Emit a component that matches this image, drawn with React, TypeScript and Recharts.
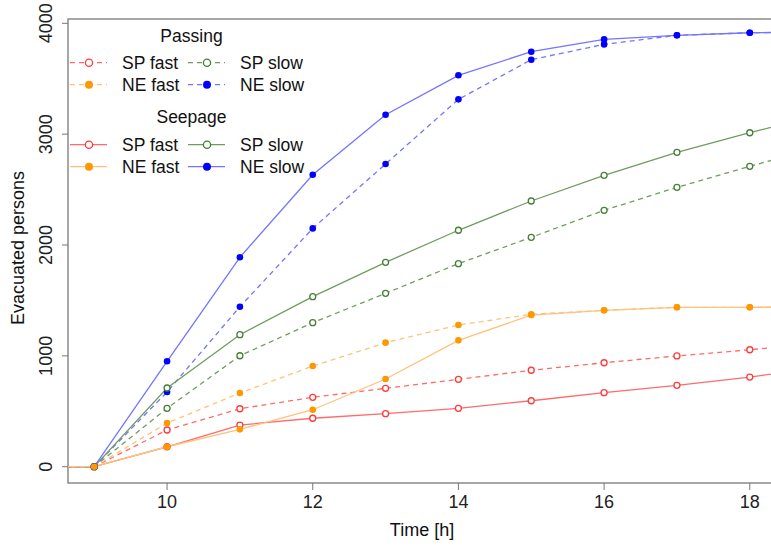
import React from "react";
import { LineChart, Line, XAxis, YAxis, ReferenceArea } from "recharts";

const hours = [8, 9, 10, 11, 12, 13, 14, 15, 16, 17, 18, 19];

// Passing
const spFastPassing = [0, 0, 331, 523, 626, 707, 788, 870, 938, 999, 1055, 1115];
const neFastPassing = [0, 0, 394, 665, 908, 1119, 1278, 1375, 1411, 1438, 1438, 1440];
const spSlowPassing = [0, 0, 527, 1001, 1299, 1564, 1832, 2069, 2313, 2520, 2710, 2890];
const neSlowPassing = [0, 0, 674, 1443, 2150, 2731, 3314, 3672, 3810, 3892, 3915, 3922];

// Seepage
const spFastSeepage = [0, 0, 180, 376, 437, 478, 527, 595, 668, 734, 809, 900];
const neFastSeepage = [0, 0, 180, 337, 514, 791, 1140, 1368, 1411, 1438, 1438, 1440];
const spSlowSeepage = [0, 0, 710, 1191, 1534, 1844, 2133, 2397, 2629, 2836, 3013, 3180];
const neSlowSeepage = [0, 0, 951, 1889, 2634, 3175, 3531, 3744, 3855, 3892, 3915, 3922];

const xTicks = [10, 12, 14, 16, 18];
const yTicks = [0, 1000, 2000, 3000, 4000];

const X_DOMAIN: [number, number] = [8.64, 18.36];
const Y_DOMAIN: [number, number] = [-147, 4039];

const data = hours.map((h, i) => ({
  h,
  spFastP: spFastPassing[i],
  neFastP: neFastPassing[i],
  spSlowP: spSlowPassing[i],
  neSlowP: neSlowPassing[i],
  spFastS: spFastSeepage[i],
  neFastS: neFastSeepage[i],
  spSlowS: spSlowSeepage[i],
  neSlowS: neSlowSeepage[i],
}));

const RED = { line: "#ff6a6a", mark: "#ff3a3a", open: true };
const ORANGE = { line: "#ffc27a", mark: "#ff9800", open: false };
const GREEN = { line: "#6f9d5f", mark: "#457f35", open: true };
const BLUE = { line: "#7474ff", mark: "#0000ff", open: false };

const DASH = "5 4";

const series = [
  { key: "spFastP", name: "SP fast", style: RED, dash: DASH },
  { key: "spSlowP", name: "SP slow", style: GREEN, dash: DASH },
  { key: "neSlowP", name: "NE slow", style: BLUE, dash: DASH },
  { key: "neFastP", name: "NE fast", style: ORANGE, dash: DASH },
  { key: "spFastS", name: "SP fast", style: RED, dash: undefined },
  { key: "spSlowS", name: "SP slow", style: GREEN, dash: undefined },
  { key: "neSlowS", name: "NE slow", style: BLUE, dash: undefined },
  { key: "neFastS", name: "NE fast", style: ORANGE, dash: undefined },
];

const FONT = "'Liberation Sans', Arial, Helvetica, sans-serif";

const makeDot = (color: string, open: boolean) => (props: any) => {
  const { cx, cy, payload, index } = props;
  if (payload.h < X_DOMAIN[0] || payload.h > X_DOMAIN[1]) return <g key={index} />;
  return open ? (
    <circle key={index} cx={cx} cy={cy} r={3} fill="white" stroke={color} strokeWidth={1.3} />
  ) : (
    <circle key={index} cx={cx} cy={cy} r={3.3} fill={color} />
  );
};

const XTick = (props: any) => {
  const { x, y, payload } = props;
  return (
    <text x={x} y={y} dy={16} textAnchor="middle" fill="#222" fontSize={18} fontFamily={FONT}>
      {payload.value}
    </text>
  );
};

const YTick = (props: any) => {
  const { y, payload } = props;
  return (
    <text
      transform={`translate(52, ${y}) rotate(-90)`}
      textAnchor="middle"
      fill="#222"
      fontSize={18}
      fontFamily={FONT}
    >
      {payload.value}
    </text>
  );
};

const LegendMark = ({ x, y, style, dash }: any) => (
  <g>
    <line x1={x - 19} x2={x + 18} y1={y} y2={y} stroke={style.line} strokeWidth={1.3} strokeDasharray={dash} />
    {style.open ? (
      <circle cx={x} cy={y} r={3.6} fill="white" stroke={style.mark} strokeWidth={1.3} />
    ) : (
      <circle cx={x} cy={y} r={4} fill={style.mark} />
    )}
  </g>
);

const LegendGroup = ({ title, titleY, rowY, dash }: any) => {
  const cells = [
    { name: "SP fast", style: RED, col: 0, row: 0 },
    { name: "NE fast", style: ORANGE, col: 0, row: 1 },
    { name: "SP slow", style: GREEN, col: 1, row: 0 },
    { name: "NE slow", style: BLUE, col: 1, row: 1 },
  ];
  const markX = [89, 207];
  const textX = [122, 240];
  return (
    <g fontFamily={FONT} fontSize={17.5} fill="#111">
      <text x={191.5} y={titleY} textAnchor="middle">
        {title}
      </text>
      {cells.map((c) => (
        <g key={c.name}>
          <LegendMark x={markX[c.col]} y={rowY[c.row] - 6.3} style={c.style} dash={dash} />
          <text x={textX[c.col]} y={rowY[c.row]}>
            {c.name}
          </text>
        </g>
      ))}
    </g>
  );
};

export default function App() {
  return (
    <div
      style={{
        position: "absolute",
        left: 0,
        top: 0,
        width: 771,
        height: 547,
        overflow: "hidden",
        background: "white",
      }}
    >
      <LineChart width={776} height={547} data={data} margin={{ top: 19, right: 0, bottom: 0, left: 0 }}>
        <XAxis
          dataKey="h"
          type="number"
          domain={X_DOMAIN}
          allowDataOverflow
          ticks={xTicks}
          height={64}
          tickSize={7}
          axisLine={false}
          tickLine={{ stroke: "#777" }}
          tick={<XTick />}
        />
        <YAxis
          type="number"
          domain={Y_DOMAIN}
          allowDataOverflow
          ticks={yTicks}
          width={68}
          tickSize={6}
          axisLine={false}
          tickLine={{ stroke: "#777" }}
          tick={<YTick />}
        />
        <ReferenceArea
          x1={X_DOMAIN[0]}
          x2={X_DOMAIN[1]}
          y1={Y_DOMAIN[0]}
          y2={Y_DOMAIN[1]}
          fill="none"
          stroke="#8a8a8a"
          strokeWidth={1.5}
          ifOverflow="visible"
        />
        {series.map((s) => (
          <Line
            key={s.key}
            dataKey={s.key}
            name={s.name}
            type="linear"
            stroke={s.style.line}
            strokeWidth={1.3}
            strokeDasharray={s.dash}
            dot={makeDot(s.style.mark, s.style.open)}
            activeDot={false}
            isAnimationActive={false}
          />
        ))}
      </LineChart>
      <svg
        width={771}
        height={547}
        style={{ position: "absolute", left: 0, top: 0, pointerEvents: "none" }}
      >
        <text x={422} y={536} textAnchor="middle" fontFamily={FONT} fontSize={18} fill="#111">
          Time [h]
        </text>
        <text
          transform="translate(24, 248) rotate(-90)"
          textAnchor="middle"
          fontFamily={FONT}
          fontSize={18}
          fill="#111"
        >
          Evacuated persons
        </text>
        <LegendGroup title="Passing" titleY={42} rowY={[69, 91]} dash={DASH} />
        <LegendGroup title="Seepage" titleY={122.7} rowY={[151, 173]} dash={undefined} />
      </svg>
    </div>
  );
}
